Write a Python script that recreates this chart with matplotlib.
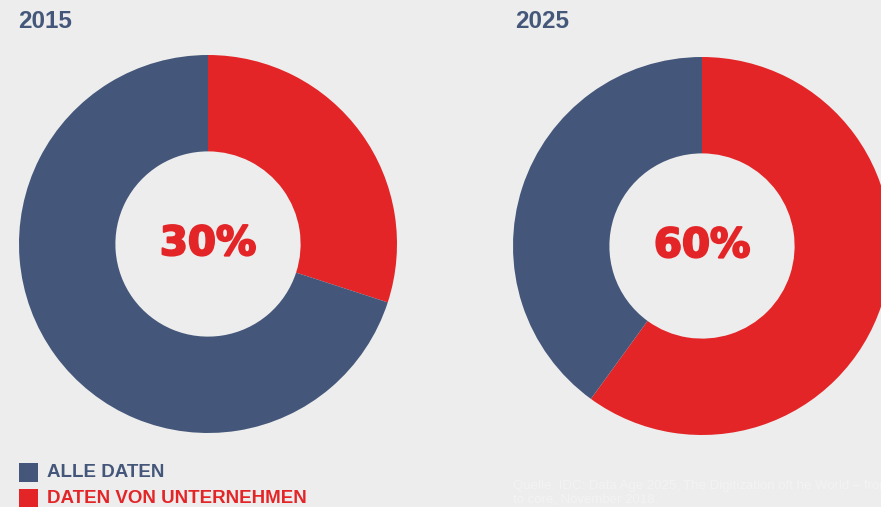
import matplotlib.pyplot as plt
import matplotlib.patheffects as pe

# data
years = ['2015', '2025']
company_share = [30, 60]          # DATEN VON UNTERNEHMEN, in %
legend_labels = ['ALLE DATEN', 'DATEN VON UNTERNEHMEN']
source = 'Quelle: IDC: Data Age 2025, The Digitization oft he World \u2013 from edge\nto core, November 2018.'

BLUE = '#44577A'
RED = '#E42528'
BG = '#EDEDED'

W, H = 881, 507
fig = plt.figure(figsize=(W / 100, H / 100), dpi=100, facecolor=BG)
ax = fig.add_axes([0, 0, 1, 1])
ax.set_facecolor(BG)

# donut centres / year labels (pixel coords, y from top)
centres = [(208, 244), (702, 246)]
title_x = [18, 515]
R = 189

for yr, share, (cx, cy), tx in zip(years, company_share, centres, title_x):
    ax.pie([share, 100 - share], colors=[RED, BLUE], startangle=90, counterclock=False,
           center=(cx, H - cy), radius=R, frame=True,
           wedgeprops=dict(width=R * 0.51, linewidth=0))
    ax.text(cx, H - cy, f'{share}%', ha='center', va='center', color=RED,
            fontsize=29, fontweight='bold', family='DejaVu Sans',
            path_effects=[pe.withStroke(linewidth=1.5, foreground=RED)])
    ax.text(tx, H - 22, yr, ha='left', va='center', color=BLUE,
            fontsize=17.5, fontweight='bold', family='Liberation Sans')

# legend
for i, (lab, col) in enumerate(zip(legend_labels, [BLUE, RED])):
    y0 = 463 + i * 26
    ax.add_patch(plt.Rectangle((19, H - y0 - 19), 19, 19, color=col, lw=0))
    ax.text(47, H - y0 - 9.5, lab, ha='left', va='center', color=col,
            fontsize=13.5, fontweight='bold', family='Liberation Sans')

ax.text(513, H - 480, source, ha='left', va='top', color='#F3F3F3',
        fontsize=9.5, family='Liberation Sans', linespacing=1.15)

ax.set_xlim(0, W)
ax.set_ylim(0, H)
ax.set_aspect('equal')
ax.axis('off')

plt.savefig('out.png', dpi=100, facecolor=BG)
